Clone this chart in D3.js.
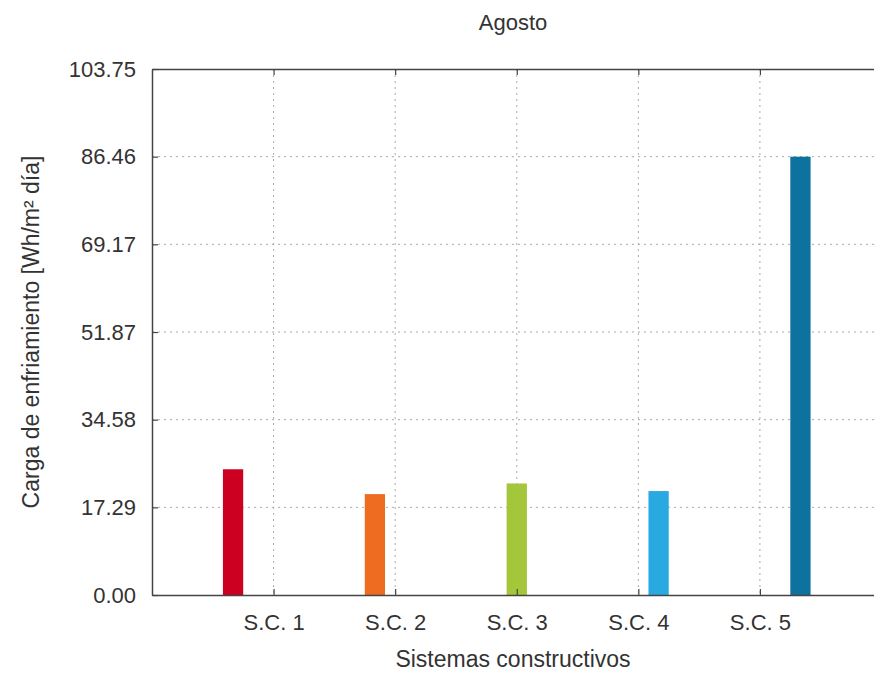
<!DOCTYPE html>
<html>
<head>
<meta charset="utf-8">
<script src="https://cdn.jsdelivr.net/npm/d3@7"></script>
<style>
	body { margin: 0; background: #fff; }
	text { font-family: "Liberation Sans", Arial, sans-serif; fill: #333; }
</style>
</head>
<body>
<div id="chart"></div>
<script>
var categories = ["S.C. 1", "S.C. 2", "S.C. 3", "S.C. 4", "S.C. 5"];
var values = [24.8, 19.9, 22.0, 20.5, 86.46];
var colors = ["#cc0020", "#ee6b22", "#a3c63a", "#28a9e1", "#0e729f"];
var yTicks = [0, 17.29, 34.58, 51.87, 69.17, 86.46, 103.75];
var yTickLabels = ["0.00", "17.29", "34.58", "51.87", "69.17", "86.46", "103.75"];

var svgWidth = 874;
var svgHeight = 681;
var plotLeft = 152, plotRight = 881.5, plotTop = 69, plotBottom = 595;

var svg = d3.select("#chart").append("svg")
	.attr("width", svgWidth)
	.attr("height", svgHeight);

var x = d3.scaleLinear().domain([0, 6]).range([plotLeft, plotRight]);
var y = d3.scaleLinear().domain([0, 103.75]).range([plotBottom, plotTop]);

// grid lines
svg.append("g").selectAll("line")
	.data(yTicks.slice(1, -1))
	.enter()
	.append("line")
	.attr("x1", plotLeft).attr("x2", plotRight)
	.attr("y1", function(d) { return y(d); })
	.attr("y2", function(d) { return y(d); })
	.style("stroke", "#aaa")
	.style("stroke-dasharray", "2,4");

svg.append("g").selectAll("line")
	.data(categories)
	.enter()
	.append("line")
	.attr("x1", function(d, i) { return x(i + 1); })
	.attr("x2", function(d, i) { return x(i + 1); })
	.attr("y1", plotTop).attr("y2", plotBottom)
	.style("stroke", "#aaa")
	.style("stroke-dasharray", "2,4");

// bars: clustered, 5 series + 1 gap per group, only one per group
var slot = 1 / 6;
svg.append("g").selectAll("rect")
	.data(values)
	.enter()
	.append("rect")
	.attr("x", function(d, i) { return x(i + 1 + (i - 2) * slot - slot / 2); })
	.attr("width", x(slot) - x(0))
	.attr("y", function(d) { return y(d); })
	.attr("height", function(d) { return y(0) - y(d); })
	.style("fill", function(d, i) { return colors[i]; });

// axes
var yAxis = d3.axisLeft(y)
	.tickValues(yTicks)
	.tickFormat(function(d, i) { return yTickLabels[i]; })
	.tickSizeInner(-6)
	.tickSizeOuter(0)
	.tickPadding(16);
var gy = svg.append("g").attr("transform", "translate(" + plotLeft + ",0)").call(yAxis);
gy.selectAll("text").style("font-size", "22px");

var xAxis = d3.axisBottom(x)
	.tickValues([1, 2, 3, 4, 5])
	.tickFormat(function(d) { return categories[d - 1]; })
	.tickSizeInner(-6)
	.tickSizeOuter(0)
	.tickPadding(19);
var gx = svg.append("g").attr("transform", "translate(0," + plotBottom + ")").call(xAxis);
gx.selectAll("text").style("font-size", "22px");

var xTop = d3.axisTop(x)
	.tickValues([1, 2, 3, 4, 5])
	.tickFormat("")
	.tickSizeInner(-6)
	.tickSizeOuter(0);
svg.append("g").attr("transform", "translate(0," + plotTop + ")").call(xTop);

svg.selectAll(".domain").style("stroke", "#444").style("stroke-width", 1.5);
svg.selectAll(".tick line").style("stroke", "#444").style("stroke-width", 1.2);
svg.selectAll(".tick text").style("fill", "#333").style("font-family", "'Liberation Sans', Arial, sans-serif");

// titles
svg.append("text")
	.attr("x", 513).attr("y", 30)
	.attr("text-anchor", "middle")
	.style("font-size", "22px")
	.text("Agosto");

svg.append("text")
	.attr("x", 513).attr("y", 667)
	.attr("text-anchor", "middle")
	.style("font-size", "23px")
	.text("Sistemas constructivos");

svg.append("text")
	.attr("transform", "translate(39,332) rotate(-90)")
	.attr("text-anchor", "middle")
	.style("font-size", "23px")
	.text("Carga de enfriamiento [Wh/m² día]");
</script>
</body>
</html>
